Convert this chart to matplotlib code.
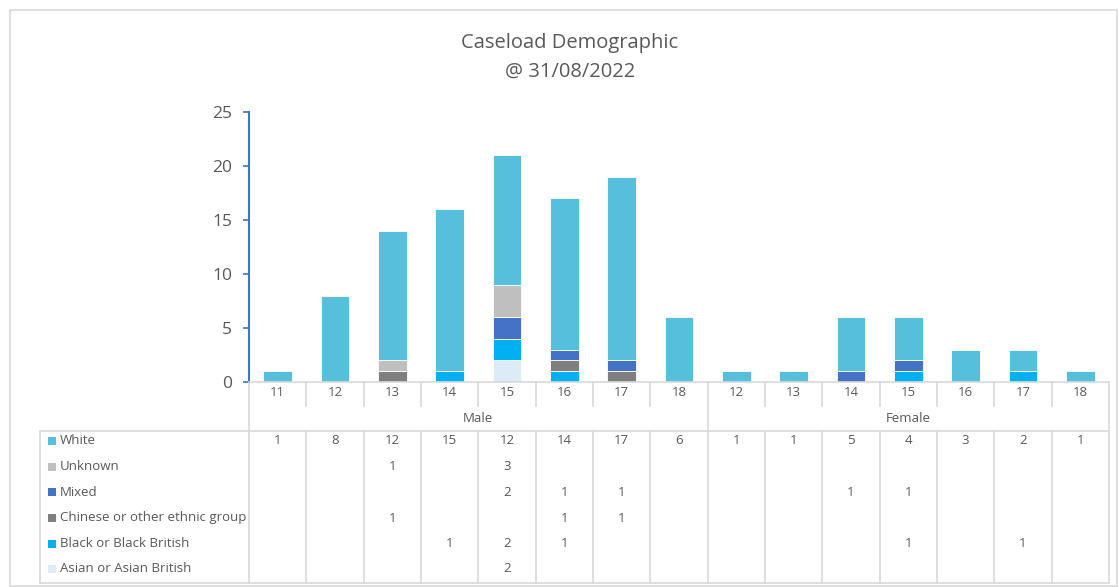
# caseload demographic - stacked bars with excel-style data table

import matplotlib.pyplot as plt
import matplotlib.transforms as mtransforms
from matplotlib.patches import Rectangle

plt.rcParams['font.family'] = ['Open Sans', 'DejaVu Sans']

ages = ["11", "12", "13", "14", "15", "16", "17", "18",
        "12", "13", "14", "15", "16", "17", "18"]
groups = ["Male", "Female"]
group_sizes = [8, 7]

# stacking order bottom -> top
series_names = ["Asian or Asian British", "Black or Black British",
                "Chinese or other ethnic group", "Mixed", "Unknown", "White"]
asian = [0, 0, 0, 0, 2, 0, 0, 0, 0, 0, 0, 0, 0, 0, 0]
black = [0, 0, 0, 1, 2, 1, 0, 0, 0, 0, 0, 1, 0, 1, 0]
chinese = [0, 0, 1, 0, 0, 1, 1, 0, 0, 0, 0, 0, 0, 0, 0]
mixed = [0, 0, 0, 0, 2, 1, 1, 0, 0, 0, 1, 1, 0, 0, 0]
unknown = [0, 0, 1, 0, 3, 0, 0, 0, 0, 0, 0, 0, 0, 0, 0]
white = [1, 8, 12, 15, 12, 14, 17, 6, 1, 1, 5, 4, 3, 2, 1]
series = [asian, black, chinese, mixed, unknown, white]
colors = ["#DDEBF7", "#00B0F0", "#7F7F7F", "#4472C4", "#BFBFBF", "#56C0DC"]

W, H = 1119, 587
fig = plt.figure(figsize=(W / 100, H / 100), dpi=100)
txt = "#595959"
grid = "#D9D9D9"

# overlay in pixel coords for border, title and table
ov = fig.add_axes([0, 0, 1, 1])
ov.set_xlim(0, W)
ov.set_ylim(H, 0)
ov.axis("off")
ov.add_patch(Rectangle((10, 10), 1107, 576, fill=False, ec=grid, lw=1.2))
ov.text(570, 43, "Caseload Demographic", ha="center", va="center", fontsize=14.5, color=txt)
ov.text(570, 72, "@ 31/08/2022", ha="center", va="center", fontsize=14.5, color=txt)

x0, x1, y0, y1 = 249, 1109, 382, 112
ax = fig.add_axes([x0 / W, 1 - y0 / H, (x1 - x0) / W, (y0 - y1) / H])
ax.set_zorder(2)
ax.patch.set_alpha(0)

n = len(ages)
xs = list(range(n))
bottom = [0] * n
for name, vals, c in zip(series_names, series, colors):
    ax.bar(xs, vals, 0.5, bottom=bottom, color=c, edgecolor="white", lw=0.6, label=name)
    bottom = [b + v for b, v in zip(bottom, vals)]

ax.set_xlim(-0.5, n - 0.5)
ax.set_ylim(0, 25)
ax.set_yticks([0, 5, 10, 15, 20, 25])
ax.set_xticks([])
for s in ["top", "right"]:
    ax.spines[s].set_visible(False)
ax.spines["left"].set_color("#4472C4")
ax.spines["left"].set_linewidth(1.5)
ax.spines["bottom"].set_color(grid)
ax.spines["bottom"].set_linewidth(1.2)
ax.tick_params(axis="y", colors="#4472C4", labelcolor=txt, labelsize=12.5,
               direction="out", length=4, width=1.2, pad=8)

# table: x from data, y in pixels
tr = mtransforms.blended_transform_factory(ax.transData, ov.transData)
row_y = [441, 466.5, 492, 518, 543.5, 569]
cat_y, grp_y = 393, 418
sep_y, bot_y = 431, 583
tab_left = 40
fs = 9.5

for i, a in enumerate(ages):
    ax.text(i, cat_y, a, transform=tr, ha="center", va="center", fontsize=fs, color=txt)

start = 0
for g, size in zip(groups, group_sizes):
    ax.text(start + (size - 1) / 2, grp_y, g, transform=tr, ha="center", va="center",
            fontsize=fs, color=txt)
    start += size

edges = [-0.5]
for size in group_sizes:
    edges.append(edges[-1] + size)
for k in range(n + 1):
    xe = k - 0.5
    if xe in edges:
        ax.plot([xe, xe], [y0, bot_y], transform=tr, color=grid, lw=1.2, clip_on=False)
    else:
        ax.plot([xe, xe], [y0, 406], transform=tr, color=grid, lw=1.2, clip_on=False)
        ax.plot([xe, xe], [sep_y, bot_y], transform=tr, color=grid, lw=1.2, clip_on=False)

ov.plot([tab_left, x1], [sep_y, sep_y], color=grid, lw=1.2)
ov.plot([tab_left, x1], [bot_y, bot_y], color=grid, lw=1.2)
ov.plot([tab_left, tab_left], [sep_y, bot_y], color=grid, lw=1.2)

# rows listed top -> bottom (reverse of stacking)
for r, (name, vals, c) in enumerate(zip(series_names[::-1], series[::-1], colors[::-1])):
    yy = row_y[r]
    ov.add_patch(Rectangle((48, yy - 4), 8, 8, color=c, lw=0))
    ov.text(60, yy, name, ha="left", va="center", fontsize=fs, color=txt)
    for i, v in enumerate(vals):
        if v:
            ax.text(i, yy, str(v), transform=tr, ha="center", va="center",
                    fontsize=fs, color=txt)

fig.savefig("out.png", dpi=100)
